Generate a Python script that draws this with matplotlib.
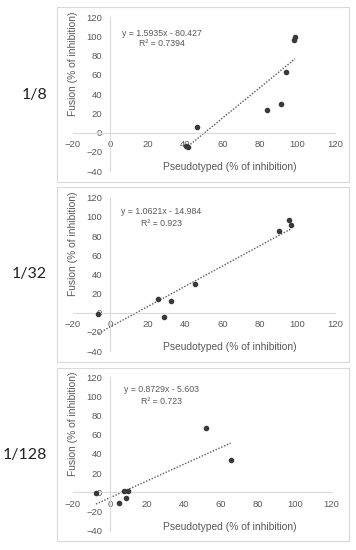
import numpy as np
import matplotlib
matplotlib.use('Agg')
import matplotlib.pyplot as plt
from matplotlib.patches import Rectangle

# data
labels = ['1/8', '1/32', '1/128']

x_18 = [40.4, 41.5, 46.6, 83.7, 91.0, 93.9, 98.3, 98.7]
y_18 = [-13.5, -14.5, 5.9, 23.2, 29.8, 63.5, 96.4, 99.9]

x_132 = [-6.2, 25.8, 29.0, 32.4, 45.3, 90.3, 95.5, 96.5]
y_132 = [-1.4, 14.2, -4.2, 11.8, 30.2, 85.0, 97.1, 91.6]

x_1128 = [-7.6, 4.9, 7.4, 8.5, 9.9, 51.8, 65.3]
y_1128 = [-0.7, -11.1, 1.0, -5.9, 1.7, 67.5, 33.7]

slopes = [1.5935, 1.0621, 0.8729]
intercepts = [-80.427, -14.984, -5.603]
eq_text = ['y = 1.5935x - 80.427', 'y = 1.0621x - 14.984', 'y = 0.8729x - 5.603']
r2_text = ['R² = 0.7394', 'R² = 0.923', 'R² = 0.723']

xs = [x_18, x_132, x_1128]
ys = [y_18, y_132, y_1128]

W, H = 356, 550
# pixel layout: x of value 0, px per unit x, y of value 0, px per unit y, box top/bottom, eq x/y
panels = [
    dict(x0=110, xs=1.875, y0=132.7, ys=0.9617, btop=7, bbot=182, ex=27.5, ey=103.5, ry=92.5),
    dict(x0=110, xs=1.875, y0=312.7, ys=0.958, btop=187, bbot=362, ex=27.5, ey=106.0, ry=93.5),
    dict(x0=110, xs=1.847, y0=492.3, ys=0.958, btop=368, bbot=541, ex=28.0, ey=106.8, ry=95.3),
]

grey = '#595959'
line_c = '#d9d9d9'

fig = plt.figure(figsize=(W / 100, H / 100), dpi=100)

for i, p in enumerate(panels):
    # light frame round each chart
    fig.patches.append(Rectangle((57 / W, 1 - p['bbot'] / H), (349 - 57) / W, (p['bbot'] - p['btop']) / H,
                                 transform=fig.transFigure, fill=False, ec=line_c, lw=0.8))
    fig.text(47 / W, 1 - (p['btop'] + p['bbot']) / 2 / H, labels[i], ha='right', va='center',
             fontsize=11.5, family='Lato', color='#222222')

    left = p['x0'] - 20 * p['xs']
    right = p['x0'] + 120 * p['xs']
    top = p['y0'] - 120 * p['ys']
    bottom = p['y0'] + 40 * p['ys']
    ax = fig.add_axes([left / W, 1 - bottom / H, (right - left) / W, (bottom - top) / H])
    ax.set_xlim(-20, 120)
    ax.set_ylim(-40, 120)
    ax.patch.set_alpha(0)

    ax.spines['left'].set_position('zero')
    ax.spines['bottom'].set_position('zero')
    ax.spines['top'].set_visible(False)
    ax.spines['right'].set_visible(False)
    for s in ['left', 'bottom']:
        ax.spines[s].set_color(line_c)
        ax.spines[s].set_linewidth(0.8)
    ax.set_xticks(range(-20, 121, 20))
    ax.set_yticks(range(-40, 121, 20))
    ax.tick_params(length=0, labelsize=6.8, labelcolor=grey, pad=5.5)
    for t in ax.get_xticklabels() + ax.get_yticklabels():
        t.set_family('Liberation Sans')

    # trendline over the data range
    xx = np.array([min(xs[i]), max(xs[i])])
    ax.plot(xx, slopes[i] * xx + intercepts[i], ls=(0, (1, 1.2)), color=grey, lw=1.0, zorder=2)
    ax.plot(xs[i], ys[i], 'o', ms=3.0, color='#3a3a3a', zorder=3, clip_on=False)

    ax.text(p['ex'], p['ey'], eq_text[i], ha='center', va='center', fontsize=6.3,
            color=grey, family='Liberation Sans')
    ax.text(p['ex'], p['ry'], r2_text[i], ha='center', va='center', fontsize=6.3,
            color=grey, family='Liberation Sans')

    # axis titles, placed in pixel terms of the panel
    xl_x = (230 - p['x0']) / p['xs']
    xl_y = (p['y0'] - (p['y0'] + 34.5)) / p['ys']
    ax.text(xl_x, xl_y, 'Pseudotyped (% of inhibition)', ha='center', va='center', fontsize=7.4,
            color=grey, family='Liberation Sans', clip_on=False)
    yl_x = (73 - p['x0']) / p['xs']
    yl_y = (p['y0'] - (p['y0'] - 68.5)) / p['ys']
    ax.text(yl_x, yl_y, 'Fusion (% of inhibition)', ha='center', va='center', rotation=90,
            fontsize=7.4, color=grey, family='Liberation Sans', clip_on=False)

fig.savefig('out.png', dpi=100)
